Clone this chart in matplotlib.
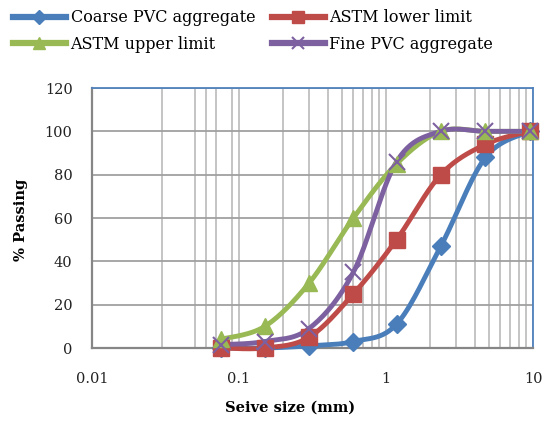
import numpy as np
import matplotlib
matplotlib.use("Agg")
import matplotlib.pyplot as plt
from matplotlib.lines import Line2D
from matplotlib.ticker import FixedLocator, NullFormatter

sieve = [0.075, 0.15, 0.3, 0.6, 1.18, 2.36, 4.75, 9.5]
coarse = [0, 0, 1, 3, 11, 47, 88, 100]
astm_lower = [0, 0, 5, 25, 50, 80, 94, 100]
astm_upper = [4, 10, 30, 60, 85, 100, 100, 100]
fine = [1.5, 3, 9, 35, 86, 100, 100, 100]

series_names = ["Coarse PVC aggregate", "ASTM lower limit", "ASTM upper limit", "Fine PVC aggregate"]
colors = ["#4A7EBB", "#BE4B48", "#98B954", "#7D60A0"]
markers = ["D", "s", "^", "x"]
msizes = [9.5, 12, 12, 11]

x_major = [0.01, 0.1, 1, 10]
x_major_labels = ["0.01", "0.1", "1", "10"]
x_minor = [0.03, 0.05, 0.06, 0.07, 0.09,
           0.2, 0.3, 0.4, 0.5, 0.6, 0.7, 0.8, 0.9,
           2, 3, 4, 5, 6, 7, 8, 9]

plt.rcParams['font.family'] = ["DejaVu Serif"]


def smooth(xs, ys, n=30):
    u = np.log10(np.asarray(xs, float))
    y = np.asarray(ys, float)
    P = np.column_stack([u, y])
    pts = []
    m = len(P)
    for i in range(m - 1):
        p0 = P[i - 1] if i > 0 else P[i]
        p1 = P[i]
        p2 = P[i + 1]
        p3 = P[i + 2] if i + 2 < m else P[i + 1]
        c1 = p1 + (p2 - p0) / 6.0
        c2 = p2 - (p3 - p1) / 6.0
        t = np.linspace(0, 1, n)[:, None]
        seg = ((1 - t) ** 3) * p1 + 3 * ((1 - t) ** 2) * t * c1 + 3 * (1 - t) * t ** 2 * c2 + t ** 3 * p2
        pts.append(seg if i == 0 else seg[1:])
    pts = np.vstack(pts)
    return 10 ** pts[:, 0], pts[:, 1]


fig = plt.figure(figsize=(5.55, 4.24), dpi=100)
ax = fig.add_axes([92 / 555, 76 / 424, 441 / 555, 260 / 424])

ax.set_xscale("log")
ax.set_xlim(0.01, 10)
ax.set_ylim(0, 120)

ax.xaxis.set_major_locator(FixedLocator(x_major))
ax.set_xticklabels(x_major_labels)
ax.xaxis.set_minor_locator(FixedLocator(x_minor))
ax.xaxis.set_minor_formatter(NullFormatter())
ax.set_yticks(range(0, 121, 20))

ax.grid(True, which="both", axis="x", color="#BFBFBF", linewidth=1.3)
ax.grid(True, which="major", axis="y", color="#A0A0A0", linewidth=1.3)
ax.set_axisbelow(True)

ax.tick_params(axis="both", which="both", length=0)
ax.tick_params(axis="x", pad=17, labelsize=10.5, labelcolor="#222222")
ax.tick_params(axis="y", pad=14, labelsize=10.5, labelcolor="#222222")

for s in ("left", "bottom"):
    ax.spines[s].set_color("#868686")
    ax.spines[s].set_linewidth(1.6)
for s in ("top", "right"):
    ax.spines[s].set_color("#4F81BD")
    ax.spines[s].set_linewidth(1.3)

all_data = [coarse, astm_lower, astm_upper, fine]
for ys, c, mk, ms in zip(all_data, colors, markers, msizes):
    sx, sy = smooth(sieve, ys)
    ax.plot(sx, sy, color=c, linewidth=3.5, solid_capstyle="round", zorder=3, clip_on=False)
    if mk == "x":
        ax.plot(sieve, ys, linestyle="none", marker=mk, markersize=ms, markeredgewidth=1.5,
                color=c, zorder=4, clip_on=False)
    else:
        ax.plot(sieve, ys, linestyle="none", marker=mk, markersize=ms, color=c,
                markeredgecolor=c, zorder=4, clip_on=False)

fig.text(290 / 555, 1 - 408 / 424, "Seive size (mm)", ha="center", va="center",
         fontsize=10.5, fontweight="bold")
fig.text(21 / 555, 1 - 220 / 424, "% Passing", ha="center", va="center",
         rotation=90, fontsize=10.5, fontweight="bold")

handles = []
for name, c, mk, ms in zip(series_names, colors, markers, msizes):
    handles.append(Line2D([], [], color=c, linewidth=4.5, marker=mk,
                          markersize=ms * 0.75,
                          markeredgewidth=1.5 if mk == "x" else 1.0, label=name))
order = [0, 2, 1, 3]
fig.legend([handles[i] for i in order], [series_names[i] for i in order],
           loc="upper left", bbox_to_anchor=(0.012, 0.993), ncol=2, frameon=False,
           fontsize=11.5, handlelength=3.3, handletextpad=0.3, columnspacing=1.05,
           labelspacing=0.6, borderaxespad=0.2, borderpad=0.2)

fig.savefig("out.png", dpi=100)
